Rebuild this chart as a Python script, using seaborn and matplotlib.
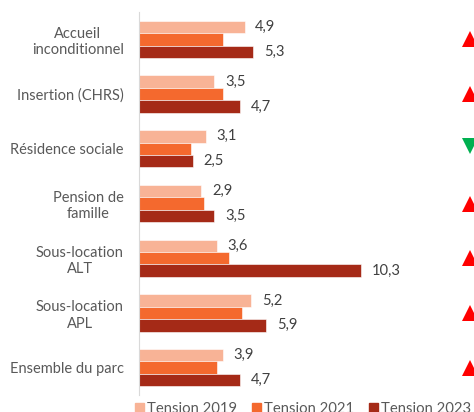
import pandas as pd
import matplotlib.pyplot as plt
import seaborn as sns

categories = [
    "Accueil\ninconditionnel",
    "Insertion (CHRS)",
    "Résidence sociale",
    "Pension de\nfamille",
    "Sous-location\nALT",
    "Sous-location\nAPL",
    "Ensemble du parc",
]
tension_2019 = [4.9, 3.5, 3.1, 2.9, 3.6, 5.2, 3.9]
tension_2021 = [3.9, 3.9, 2.4, 3.0, 4.2, 4.8, 3.6]
tension_2023 = [5.3, 4.7, 2.5, 3.5, 10.3, 5.9, 4.7]
trend_up = [True, True, False, True, True, True, True]
series = ["Tension 2019", "Tension 2021", "Tension 2023"]
colors = ["#F8B396", "#F4692E", "#A52A17"]

rows = []
for name, vals in zip(series, [tension_2019, tension_2021, tension_2023]):
    for c, v in zip(categories, vals):
        rows.append({"Catégorie": c, "Série": name, "Valeur": v})
df = pd.DataFrame(rows)

sns.set_style("white")
plt.rcParams["font.family"] = ["Lato", "DejaVu Sans"]

fig = plt.figure(figsize=(4.74, 4.12), dpi=100)
ax = fig.add_axes([139 / 474, 17 / 412, 335 / 474, 383 / 412])

sns.barplot(
    data=df, y="Catégorie", x="Valeur", hue="Série", order=categories,
    hue_order=series, palette=colors, orient="h", width=0.68, ax=ax,
    saturation=1, edgecolor="white", linewidth=0.4,
)

ax.set_xlim(0, 15.55)
ax.set_ylim(len(categories) - 0.5, -0.5)
ax.set_xlabel("")
ax.set_ylabel("")
ax.set_xticks([])
ax.tick_params(axis="y", length=0, pad=11, labelsize=10.5, labelcolor="#595959")
for lab in ax.get_yticklabels():
    lab.set_multialignment("center")
for s in ["top", "right", "bottom"]:
    ax.spines[s].set_visible(False)
ax.spines["left"].set_color("#D9D9D9")

# value labels for 2019 and 2023
step = 0.68 / 3
for i, c in enumerate(categories):
    for vals, off in [(tension_2019, -step), (tension_2023, step)]:
        ax.text(vals[i] + 0.5, i + off, f"{vals[i]:.1f}".replace(".", ","),
                va="center", ha="left", fontsize=10.6, color="#404040")
    if trend_up[i]:
        ax.plot(15.35, i, marker="^", markersize=11, color="#FF0000",
                clip_on=False, markeredgewidth=0)
    else:
        ax.plot(15.35, i - 0.05, marker="v", markersize=11, color="#00B050",
                clip_on=False, markeredgewidth=0)

ax.legend_.remove()
handles = [plt.Rectangle((0, 0), 1, 1, color=col) for col in colors]
fig.legend(handles, series, loc="center", bbox_to_anchor=(0.639, 0.008),
           ncol=3, frameon=False, fontsize=10.7, handlelength=0.6,
           handleheight=0.6, handletextpad=0.2, columnspacing=1.0,
           labelcolor="#595959")

fig.savefig("out.png", dpi=100)
